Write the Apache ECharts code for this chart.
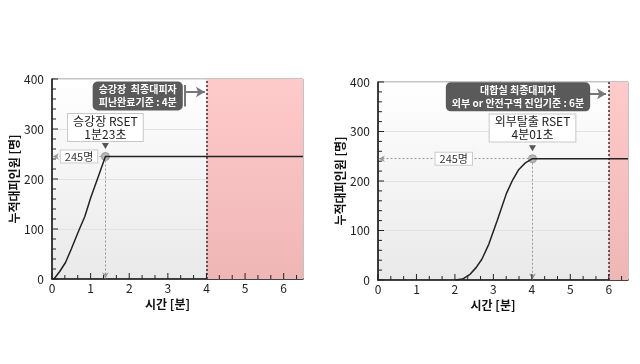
<!DOCTYPE html>
<html><head><meta charset="utf-8">
<script src="https://cdn.jsdelivr.net/npm/echarts@6/dist/echarts.min.js"></script>
<style>html,body{margin:0;padding:0;background:#fff}#c{width:640px;height:364px}</style>
</head><body><div id="c"></div>
<script>
// ---- data ----
const xTicks = [0,1,2,3,4,5,6];
const yTicks = [0,100,200,300,400];
const xMinorPerMajor = 3;   // minor divisions per minute
const yMinorPerMajor = 5;   // minor divisions per 100
const leftCurve = [[0.05,0],[0.2,15],[0.35,33],[0.5,60],[0.7,98],[0.85,125],[1.0,162],[1.2,205],[1.383,245],[6.5,245]];
const rightCurve = [[2.0,0],[2.2,2],[2.4,12],[2.55,25],[2.7,42],[2.88,72],[3.1,120],[3.34,175],[3.5,202],[3.65,222],[3.82,236],[4.017,245],[6.5,245]];
const leftRset = [1.383, 245];
const rightRset = [4.017, 245];
const leftLimit = 4;
const rightLimit = 6;
const leftRsetText = '승강장 RSET\n1분23초';
const rightRsetText = '외부탈출 RSET\n4분01초';
const leftCallout = '승강장  최종대피자\n피난완료기준 : 4분';
const rightCallout = '대합실 최종대피자\n외부 or 안전구역 진입기준 : 6분';
const countText = '245명';
const xName = '시간 [분]';
const yName = '누적대피인원 [명]';

const FONT = 'Noto Sans CJK KR';
const XMAX = 6.5, YMAX = 400;
const chart = echarts.init(document.getElementById('c'), null, {renderer:'canvas'});

const bgGrad = new echarts.graphic.LinearGradient(0,0,0,1,[{offset:0,color:'#ffffff'},{offset:1,color:'#e9e9e9'}]);
const redGrad = new echarts.graphic.LinearGradient(0,0,0,1,[{offset:0,color:'#ffcaca'},{offset:1,color:'#efb6b6'}]);

// tick mark positions (axis decoration) built from the tick arrays: [position-on-x, position-on-y, kind(0=x,1=y), major]
const tickMarks = [];
xTicks.forEach(t=>{ for(let k=0;k<xMinorPerMajor;k++){ const v=t+k/xMinorPerMajor; if(v<XMAX) tickMarks.push([v,0,0,k===0?1:0]); } });
yTicks.forEach(t=>{ for(let k=0;k<yMinorPerMajor;k++){ const v=t+k*100/yMinorPerMajor; if(v<=YMAX && (k===0 || v<YMAX)) tickMarks.push([0,v,1,k===0?1:0]); } });

function xAxisCfg(idx){
  return {gridIndex:idx,type:'value',min:0,max:XMAX,interval:1,
    name:xName,nameLocation:'middle',nameGap:6,
    nameTextStyle:{fontFamily:FONT,fontSize:12,fontWeight:'bold',color:'#111',padding:[0,20,0,0]},
    axisLine:{show:true,onZero:false,lineStyle:{color:'#111',width:1.5}},
    axisTick:{show:false}, minorTick:{show:false},
    axisLabel:{fontFamily:FONT,fontSize:12,color:'#222',margin:3,showMaxLabel:false,
      formatter:v=>xTicks.includes(v)?String(v):''},
    splitLine:{show:false}};
}
function yAxisCfg(idx){
  return {gridIndex:idx,type:'value',min:0,max:YMAX,interval:100,
    name:yName,nameLocation:'middle',nameGap:30,
    nameTextStyle:{fontFamily:FONT,fontSize:12,fontWeight:'bold',color:'#111'},
    axisLine:{show:true,lineStyle:{color:'#111',width:1.5}},
    axisTick:{show:false}, minorTick:{show:false},
    axisLabel:{fontFamily:FONT,fontSize:12,color:'#222',margin:8,
      formatter:v=>yTicks.includes(v)?String(v):''},
    splitLine:{show:true,lineStyle:{color:'#e2e2e2',width:1}}};
}

function tickSeries(idx){
  return {type:'custom', xAxisIndex:idx, yAxisIndex:idx, silent:true, clip:false, z:8,
    encode:{x:0,y:1},
    data:tickMarks,
    renderItem:function(params, api){
      const p = api.coord([api.value(0), api.value(1)]);
      const len = api.value(3) ? 6 : 4;
      if(api.value(2)===0){
        return {type:'line',shape:{x1:p[0],y1:p[1],x2:p[0],y2:p[1]-len},style:{stroke:'#222',lineWidth:1}};
      }
      return {type:'line',shape:{x1:p[0],y1:p[1],x2:p[0]+len,y2:p[1]},style:{stroke:'#222',lineWidth:1}};
    }};
}

function seriesCfg(idx, data, rset, limit, rsetText, rsetBoxY, calloutText, calloutPos, bracket, countX){
  return {
    type:'line', xAxisIndex:idx, yAxisIndex:idx, data:data, showSymbol:false,
    lineStyle:{color:'#222',width:1.5}, silent:true, z:5,
    markArea:{silent:true, itemStyle:{color:redGrad}, data:[[{xAxis:limit},{xAxis:XMAX}]]},
    markLine:{silent:true, symbol:'none', animation:false, label:{show:false},
      data:[
        [{coord:[limit,0],lineStyle:{type:[2,2],color:'#333',width:1.5}},{coord:[limit,YMAX]}],
        [{coord:[rset[0],rset[1]],symbol:'none',lineStyle:{type:[2,2],color:'#999',width:1}},{coord:[0.02,rset[1]],symbol:'arrow',symbolSize:[5,6]}],
        [{coord:[rset[0],rset[1]],symbol:'none',lineStyle:{type:[2,2],color:'#999',width:1}},{coord:[rset[0],1],symbol:'arrow',symbolSize:[5,6]}],
        [{coord:[bracket.x,bracket.y0],symbol:'none',lineStyle:{type:'solid',color:'#777',width:2}},{coord:[bracket.x,bracket.y1],symbol:'none'}],
        [{coord:[bracket.x,bracket.ya],symbol:'none',lineStyle:{type:'solid',color:'#777',width:2}},{coord:[bracket.tip,bracket.ya],symbol:'arrow',symbolSize:[8,9]}]
      ]},
    markPoint:{silent:true, animation:false, data:[
      {coord:[rset[0],rset[1]+21],symbol:'triangle',symbolRotate:180,symbolSize:[7,6],itemStyle:{color:'#555'},label:{show:false}},
      {coord:rset,symbol:'circle',symbolSize:8,itemStyle:{color:'#b8b8b8',borderColor:'#999',borderWidth:1},label:{show:false}},
      {coord:[rset[0],rsetBoxY],symbol:'rect',symbolSize:0,
        label:{show:true,position:'inside',formatter:rsetText,fontFamily:FONT,fontSize:12,lineHeight:13,color:'#222',
          backgroundColor:'#fff',borderColor:'#c8c8c8',borderWidth:1,padding:[1,5,0,5],align:'center'}},
      {coord:[countX,rset[1]],symbol:'rect',symbolSize:0,
        label:{show:true,position:'inside',formatter:countText,fontFamily:FONT,fontSize:11,color:'#333',
          backgroundColor:'#fff',borderColor:'#ccc',borderWidth:1,padding:[1,4,0,4]}},
      {coord:calloutPos,symbol:'rect',symbolSize:0,
        label:{show:true,position:'inside',formatter:calloutText,fontFamily:FONT,fontSize:10,fontWeight:'bold',lineHeight:13,color:'#fff',
          backgroundColor:'#5a5a5a',borderRadius:5,padding:[2,6,1,6],align:'center'}}
    ]}
  };
}

chart.setOption({
  animation:false,
  backgroundColor:'#fff',
  grid:[
    {left:52,top:79,width:251,height:200,show:true,backgroundColor:bgGrad,borderColor:'#888',borderWidth:1},
    {left:378,top:82,width:250,height:198,show:true,backgroundColor:bgGrad,borderColor:'#888',borderWidth:1}
  ],
  xAxis:[xAxisCfg(0),xAxisCfg(1)],
  yAxis:[yAxisCfg(0),yAxisCfg(1)],
  series:[
    seriesCfg(0,leftCurve,leftRset,leftLimit,leftRsetText,303,leftCallout,[2.22,366],{x:3.44,y0:388,y1:345,ya:374,tip:3.96},0.70),
    seriesCfg(1,rightCurve,rightRset,rightLimit,rightRsetText,307,rightCallout,[3.64,370],{x:5.34,y0:395,y1:344,ya:376,tip:5.93},1.97),
    tickSeries(0), tickSeries(1)
  ]
});
</script></body></html>
